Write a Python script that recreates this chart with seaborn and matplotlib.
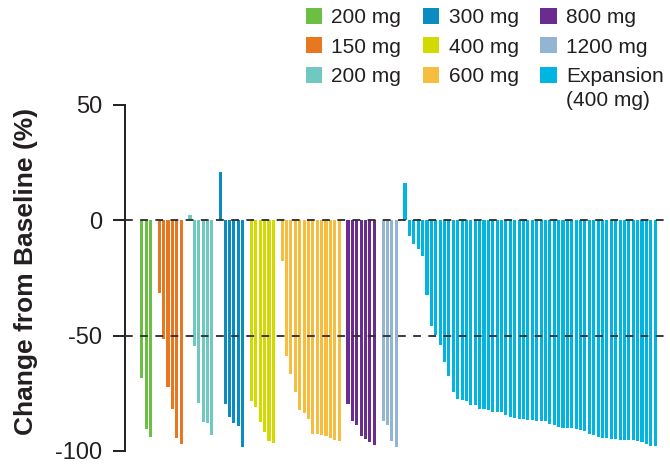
import numpy as np
import pandas as pd
import matplotlib
matplotlib.use("Agg")
import matplotlib.pyplot as plt
import seaborn as sns
from matplotlib.patches import Patch

# ---- data ----
group_keys = ["200a", "150", "200b", "300", "400", "600", "800", "1200", "exp"]
group_labels = ["200 mg", "150 mg", "200 mg", "300 mg", "400 mg", "600 mg",
                "800 mg", "1200 mg", "Expansion"]
exp_sublabel = "(400 mg)"
group_colors = ["#6CBE45", "#E87722", "#70C9C0", "#0A8BC2", "#D3DA00",
                "#F6BD3E", "#6A2C8F", "#94B4D3", "#00B5E2"]

vals_200a = [-68.4, -90.4, -93.8]
vals_150 = [-31.3, -51.6, -72.3, -81.8, -94.3, -96.9]
vals_200b = [2.2, -54.6, -79.2, -87.4, -87.8, -93.0]
vals_300 = [21.1, -79.7, -85.2, -87.8, -89.1, -98.1]
vals_400 = [-78.3, -80.9, -87.4, -91.7, -95.6, -96.4]
vals_600 = [-17.5, -58.9, -66.7, -74.4, -82.2, -83.5, -86.1, -92.5, -92.5,
            -93.0, -93.4, -94.3, -95.1, -95.6]
vals_800 = [-79.6, -86.9, -88.7, -93.4, -94.7, -96.0, -97.3]
vals_1200 = [-86.9, -88.7, -95.6, -98.1]
vals_exp = [16.0, -6.8, -10.2, -12.4, -15.4, -32.2, -46.0, -49.9, -54.2, -61.5,
            -67.5, -74.4, -77.5, -77.9, -78.3, -80.0, -80.0, -81.8, -81.8, -82.2,
            -83.1, -83.1, -83.1, -84.4, -85.2, -85.6, -86.1, -86.1, -86.5, -86.5,
            -86.9, -86.9, -86.9, -88.2, -88.7, -89.5, -90.0, -90.0, -90.0, -90.4,
            -90.8, -91.3, -92.5, -93.0, -93.8, -94.3, -94.3, -94.7, -94.7, -95.1,
            -95.1, -95.1, -95.1, -95.6, -96.0, -96.9, -97.7, -97.7]

y_ticks = [50, 0, -50, -100]
y_tick_labels = ["50", "0", "-50", "-100"]
ref_lines = [0, -50]
y_label = "Change from Baseline (%)"

# ---- build table: one slot per patient, one empty slot between cohorts ----
groups = [vals_200a, vals_150, vals_200b, vals_300, vals_400, vals_600,
          vals_800, vals_1200, vals_exp]
rows = []
slot = 0
for key, vals in zip(group_keys, groups):
    for v in vals:
        rows.append({"slot": slot, "change": v, "group": key})
        slot += 1
    slot += 1
df = pd.DataFrame(rows)

sns.set_theme(style="white")
plt.rcParams["font.family"] = ["Liberation Sans", "DejaVu Sans"]
plt.rcParams["axes.unicode_minus"] = False

ink = "#231F20"
fig = plt.figure(figsize=(6.7, 4.66), dpi=100)
ax = fig.add_axes([0.1866, 0.0322, 0.807, 0.7425])

sns.barplot(data=df, x="slot", y="change", hue="group",
            palette=dict(zip(group_keys, group_colors)), saturation=1,
            native_scale=True, width=0.7, dodge=False, errorbar=None,
            linewidth=0, legend=False, ax=ax)

for r in ref_lines:
    ax.axhline(r, color="#2B2B2B", lw=1.3, ls=(0, (4.3, 4.1)), zorder=5)

ax.set_xlim(-3.8, 119.4)
ax.set_ylim(-100, 50)
ax.set_xticks([])
ax.set_xlabel("")
ax.set_yticks(y_ticks)
ax.set_yticklabels(y_tick_labels, fontsize=17, color=ink)
ax.tick_params(axis="y", direction="out", length=8.4, width=1.4,
               color=ink, pad=8, left=True)
for s in ["top", "right", "bottom"]:
    ax.spines[s].set_visible(False)
ax.spines["left"].set_color(ink)
ax.spines["left"].set_linewidth(1.4)

ax.set_ylabel(y_label, fontsize=19, fontweight="bold", color=ink)
ax.yaxis.set_label_coords(-0.161, 0.52)

handles = [Patch(facecolor=c, edgecolor="none", label=l)
           for c, l in zip(group_colors, group_labels)]
leg = fig.legend(handles=handles, loc="upper left",
                 bbox_to_anchor=(306.0 / 670, 1 - 8 / 466),
                 bbox_transform=fig.transFigure, ncol=3, frameon=False,
                 fontsize=15, handlelength=0.78, handleheight=0.78,
                 handletextpad=0.44, columnspacing=1.05, labelspacing=0.5,
                 borderpad=0, borderaxespad=0, labelcolor=ink)

# second line of the last legend entry, placed just under "Expansion"
fig.canvas.draw()
exp_text = leg.get_texts()[-1]
bb = exp_text.get_window_extent(fig.canvas.get_renderer())
fig.text(bb.x0 / fig.bbox.width, (bb.y0 - 24) / fig.bbox.height, exp_sublabel,
         fontsize=15, color=ink, ha="left", va="bottom")

fig.savefig("out.png", dpi=100, facecolor="white")
